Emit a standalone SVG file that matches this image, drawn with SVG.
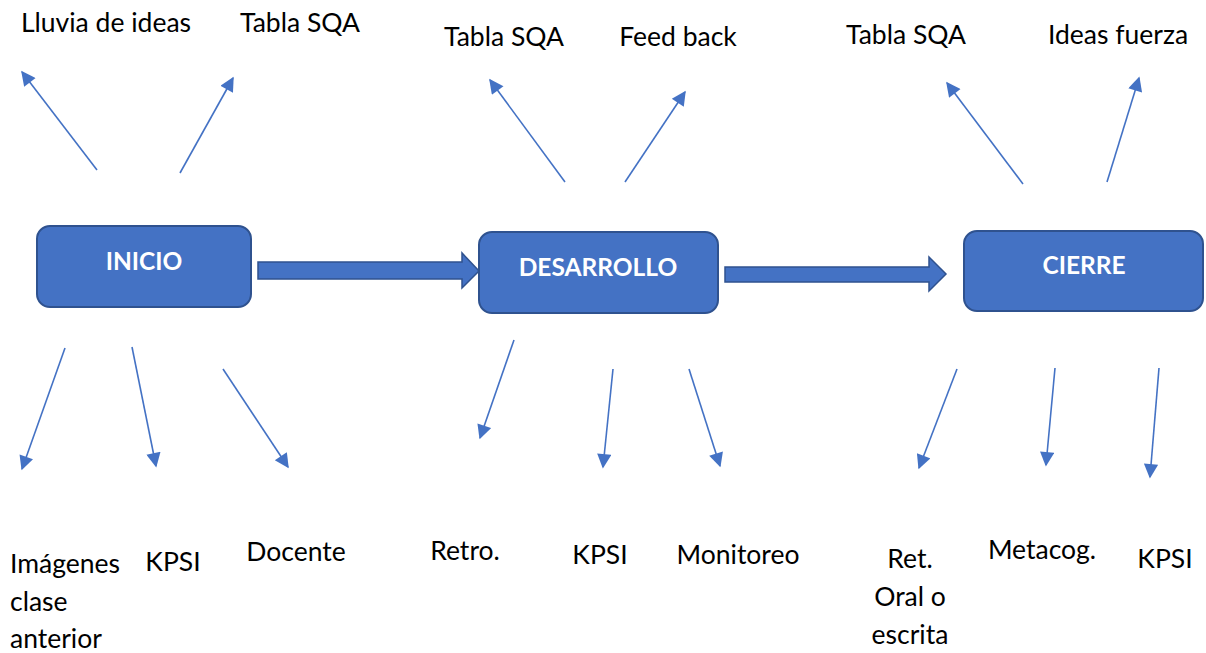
<svg xmlns="http://www.w3.org/2000/svg" width="1206" height="653" viewBox="0 0 1206 653">
<defs>
<style>
.lbl{font-family:Lato,"Open Sans","Liberation Sans",sans-serif;font-size:26.5px;fill:#000;text-anchor:middle}
.lft{text-anchor:start}
.box{fill:#4472C4;stroke:#2F528F;stroke-width:2}
.bt{font-family:Lato,"Open Sans","Liberation Sans",sans-serif;font-size:24.5px;font-weight:bold;fill:#fff;text-anchor:middle}
.ln{stroke:#4472C4;stroke-width:1.6;fill:none;marker-end:url(#ah)}
.blk{fill:#4472C4;stroke:#2F528F;stroke-width:1.5}
</style>
<marker id="ah" viewBox="0 0 10 10" refX="9" refY="5" markerWidth="10" markerHeight="9" markerUnits="strokeWidth" orient="auto">
<path d="M0,0 L10,5 L0,10 Z" fill="#4472C4"/>
</marker>
</defs>
<rect width="1206" height="653" fill="#fff"/>
<g id="connectors">
<path class="blk" d="M258,262 H462 V253 L479,271 L462,288 V279 H258 Z"/>
<path class="blk" d="M725,267 H929 V257 L946,274 L929,291 V282 H725 Z"/>
<line class="ln" x1="97" y1="170" x2="22" y2="72"/>
<line class="ln" x1="180" y1="173" x2="233" y2="78"/>
<line class="ln" x1="565" y1="182" x2="490" y2="80"/>
<line class="ln" x1="625" y1="182" x2="685" y2="92"/>
<line class="ln" x1="1023" y1="184" x2="947" y2="83"/>
<line class="ln" x1="1107" y1="182" x2="1139" y2="78"/>
<line class="ln" x1="65" y1="348" x2="22" y2="469"/>
<line class="ln" x1="132" y1="347" x2="156" y2="466"/>
<line class="ln" x1="223" y1="369" x2="288" y2="467"/>
<line class="ln" x1="514" y1="340" x2="480" y2="438"/>
<line class="ln" x1="613" y1="369" x2="603" y2="467"/>
<line class="ln" x1="689" y1="369" x2="720" y2="466"/>
<line class="ln" x1="957" y1="369" x2="919" y2="468"/>
<line class="ln" x1="1055" y1="368" x2="1046" y2="465"/>
<line class="ln" x1="1159" y1="368" x2="1150" y2="477"/>
</g>
<g id="inicio">
<rect class="box" x="37" y="226" width="214" height="81" rx="13"/>
<text class="bt" x="144" y="270">INICIO</text>
</g>
<g id="desarrollo">
<rect class="box" x="479" y="232" width="239" height="81" rx="13"/>
<text class="bt" x="598" y="276">DESARROLLO</text>
</g>
<g id="cierre">
<rect class="box" x="964" y="231" width="239" height="80" rx="13"/>
<text class="bt" x="1084" y="274">CIERRE</text>
</g>
<g id="labels">
<text class="lbl" x="106" y="32">Lluvia de ideas</text>
<text class="lbl" x="300" y="32">Tabla SQA</text>
<text class="lbl" x="504" y="46">Tabla SQA</text>
<text class="lbl" x="678" y="46">Feed back</text>
<text class="lbl" x="906" y="44">Tabla SQA</text>
<text class="lbl" x="1118" y="44">Ideas fuerza</text>
<text class="lbl lft" x="10" y="573">Imágenes</text>
<text class="lbl lft" x="10" y="611">clase</text>
<text class="lbl lft" x="10" y="648">anterior</text>
<text class="lbl" x="173" y="571">KPSI</text>
<text class="lbl" x="296" y="561">Docente</text>
<text class="lbl" x="465" y="560">Retro.</text>
<text class="lbl" x="600" y="564">KPSI</text>
<text class="lbl" x="738" y="564">Monitoreo</text>
<text class="lbl" x="910" y="568">Ret.</text>
<text class="lbl" x="910" y="606">Oral o</text>
<text class="lbl" x="910" y="644">escrita</text>
<text class="lbl" x="1042" y="559">Metacog.</text>
<text class="lbl" x="1165" y="568">KPSI</text>
</g>
</svg>
